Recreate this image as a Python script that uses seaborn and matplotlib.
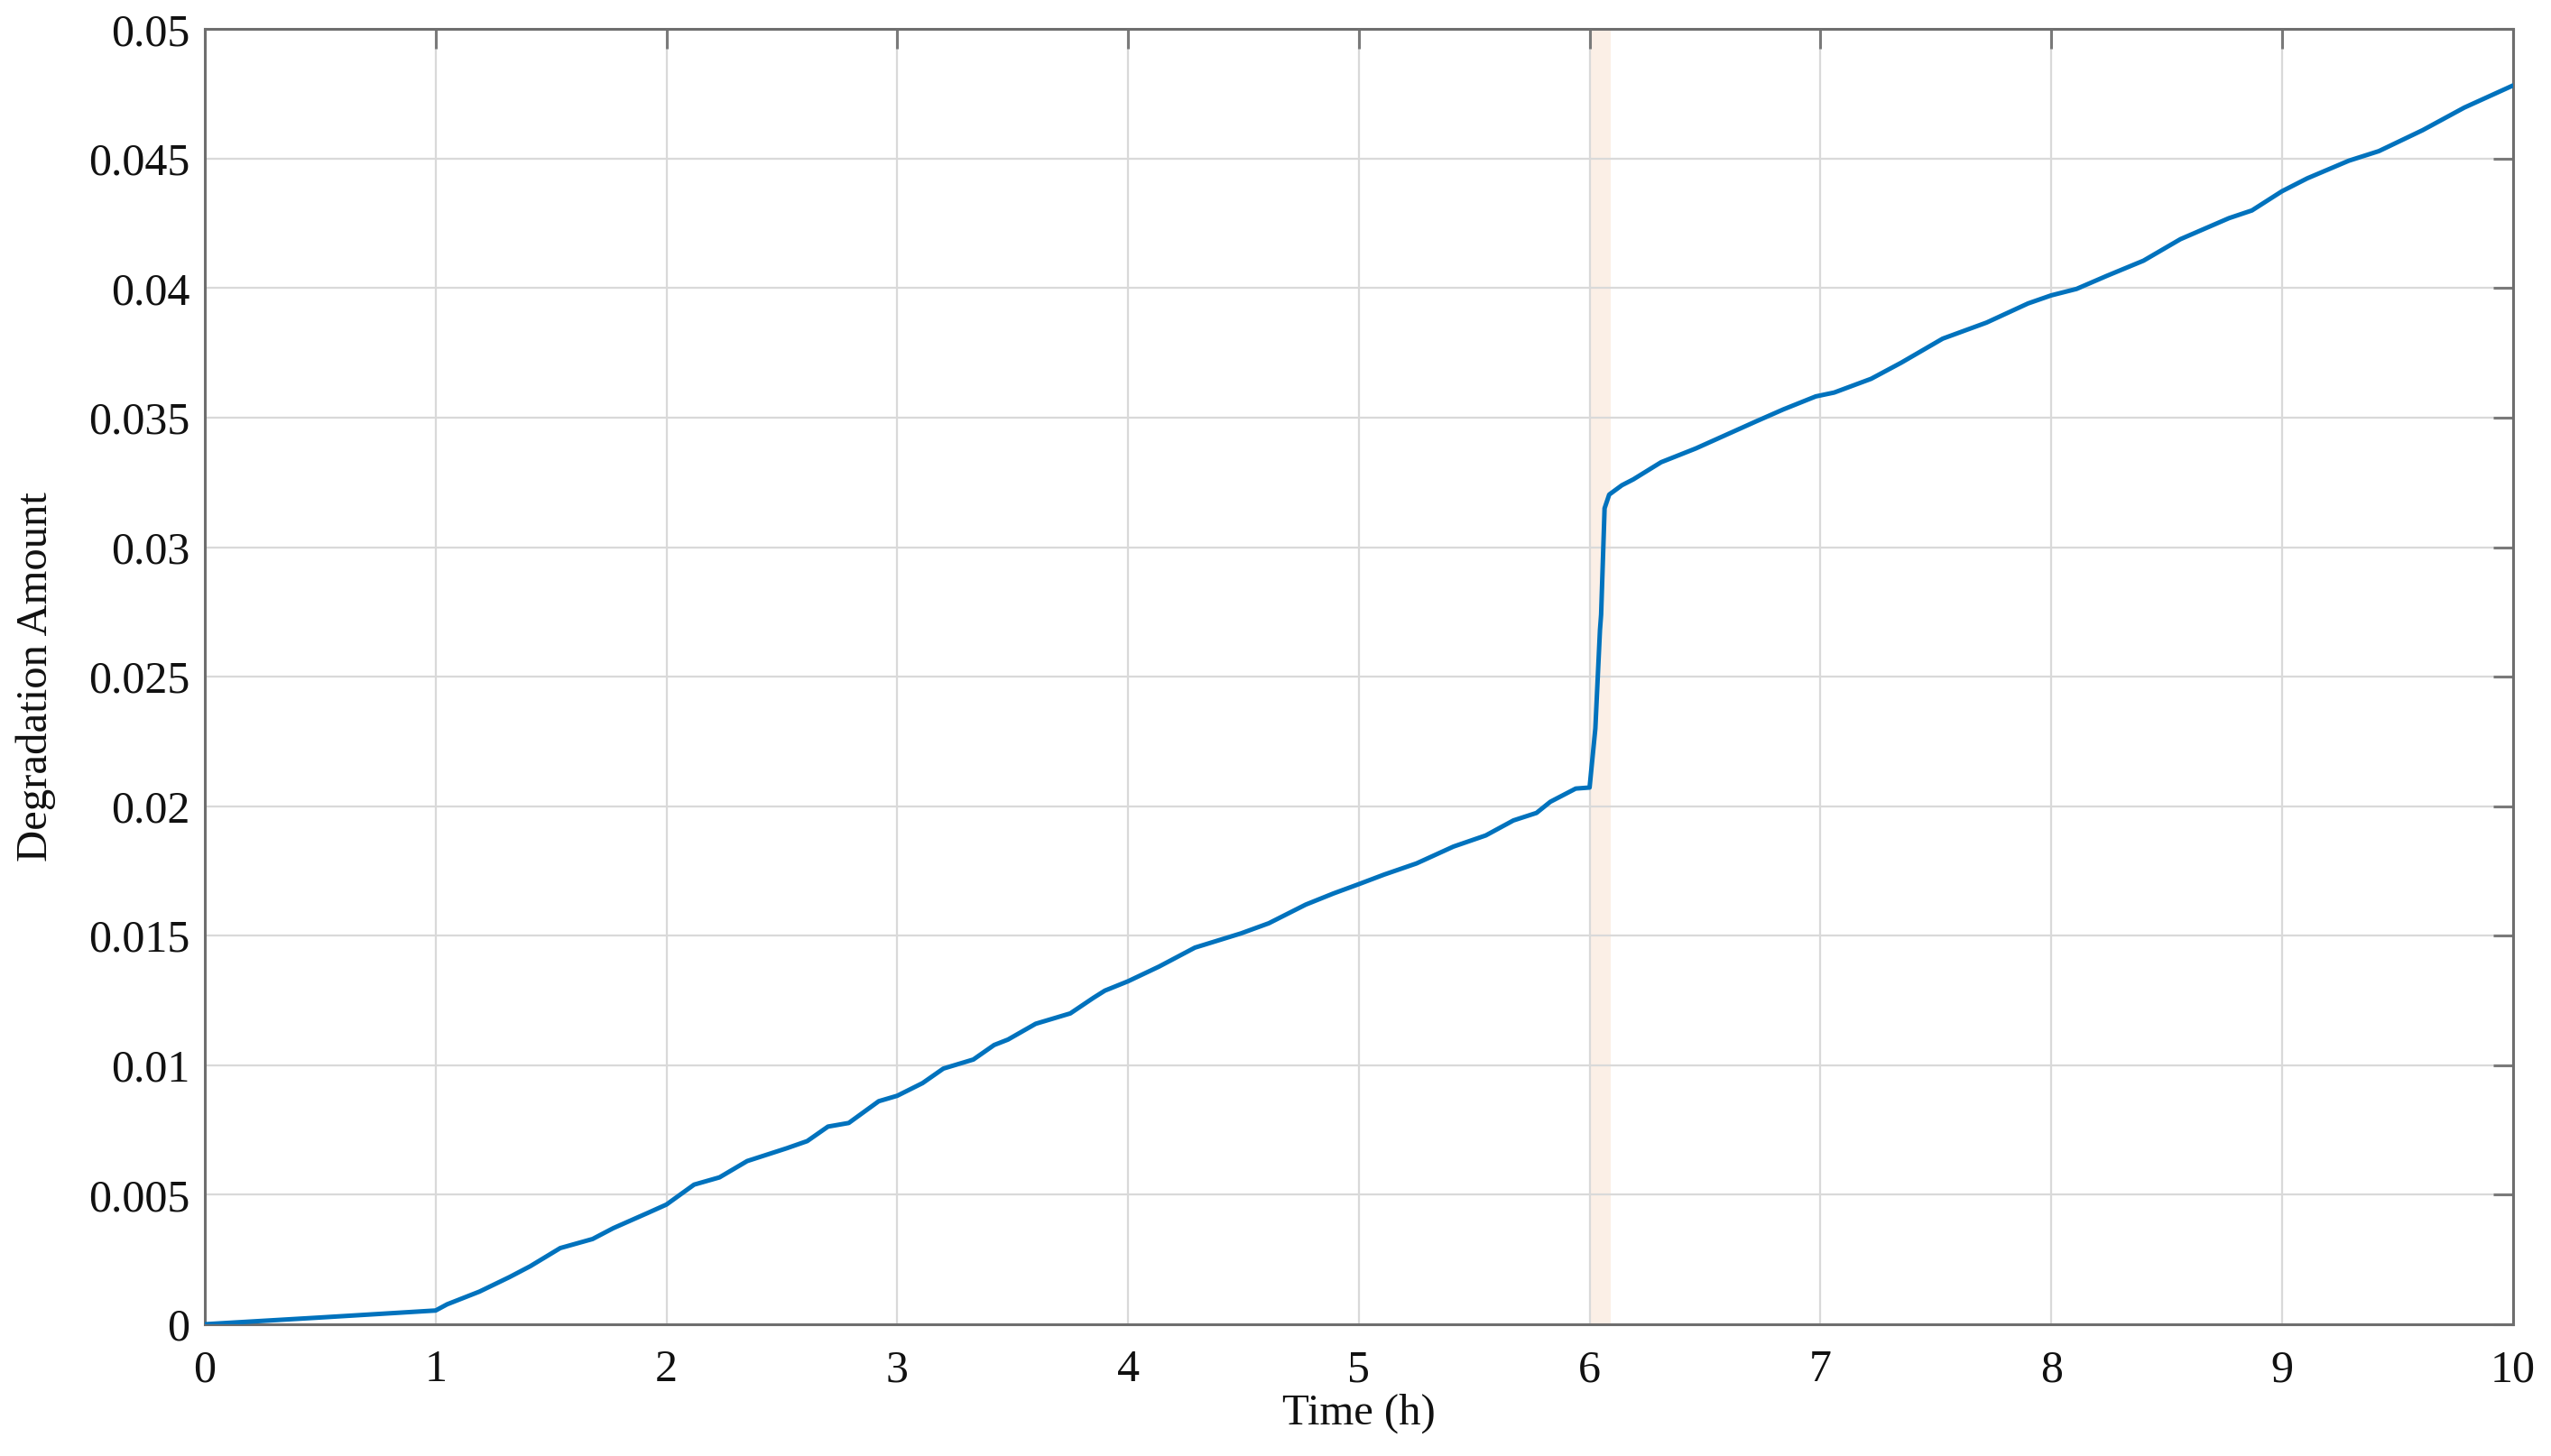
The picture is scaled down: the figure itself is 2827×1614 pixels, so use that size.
import numpy as np
import pandas as pd
import matplotlib
matplotlib.use("Agg")
import matplotlib.pyplot as plt
from matplotlib.ticker import FuncFormatter
import seaborn as sns

# values
time_h = [0.0, 0.5, 1.0, 1.05, 1.19, 1.32, 1.41, 1.54, 1.68, 1.77, 1.92, 2.0,
          2.12, 2.23, 2.35, 2.52, 2.61, 2.70, 2.79, 2.92, 3.0, 3.11, 3.20, 3.33,
          3.42, 3.48, 3.6, 3.75, 3.85, 3.90, 4.0, 4.135, 4.29, 4.49, 4.61, 4.77,
          4.89, 5.0, 5.11, 5.25, 5.41, 5.55, 5.67, 5.77, 5.83, 5.94, 6.0,
          6.025, 6.045, 6.05, 6.065, 6.085, 6.14, 6.19, 6.31, 6.46, 6.59, 6.72,
          6.84, 6.98, 7.06, 7.22, 7.35, 7.53, 7.72, 7.90, 8.0, 8.11, 8.24, 8.40,
          8.56, 8.77, 8.87, 9.0, 9.11, 9.29, 9.42, 9.61, 9.79, 10.0]
degradation = [0.0, 0.00026, 0.00053, 0.00077, 0.00126, 0.00182, 0.00224, 0.00294,
               0.00329, 0.00371, 0.0043, 0.00462, 0.00539, 0.00567, 0.0063, 0.00679,
               0.00707, 0.00763, 0.00777, 0.00861, 0.00882, 0.00931, 0.00987, 0.01022,
               0.01078, 0.01099, 0.0116, 0.0120, 0.0126, 0.01288, 0.01324, 0.01381,
               0.01454, 0.01509, 0.01548, 0.0162, 0.01663, 0.01699, 0.01736, 0.01779,
               0.01844, 0.01887, 0.01945, 0.01974, 0.02017, 0.02068, 0.02072,
               0.0230, 0.0268, 0.0274, 0.0315, 0.03203, 0.03239, 0.03262, 0.03328,
               0.03381, 0.03433, 0.03485, 0.03532, 0.03582, 0.03597, 0.0365, 0.03712,
               0.03805, 0.03867, 0.03941, 0.03972, 0.03997, 0.04047, 0.04106, 0.04189,
               0.0427, 0.043, 0.04374, 0.04424, 0.04492, 0.04529, 0.0461, 0.04697,
               0.04782]

band = (6.0, 6.09)
x_ticks = list(range(0, 11))
y_ticks = [0, 0.005, 0.01, 0.015, 0.02, 0.025, 0.03, 0.035, 0.04, 0.045, 0.05]

df = pd.DataFrame({"Time (h)": time_h, "Degradation Amount": degradation})

sns.set_style("whitegrid")
plt.rcParams["font.family"] = ["Liberation Serif", "DejaVu Serif"]

fig = plt.figure(figsize=(28.27, 16.14), dpi=100)
ax = fig.add_axes([0.0803, 0.0905, 0.9047, 0.8895])

ax.axvspan(band[0], band[1], color="#FBEFE6", lw=0, zorder=0)
sns.lineplot(data=df, x="Time (h)", y="Degradation Amount", color="#0072BD",
             linewidth=3.6, ax=ax, zorder=3)

ax.set_xlim(0, 10)
ax.set_ylim(0, 0.05)
ax.set_xticks(x_ticks)
ax.set_yticks(y_ticks)
ax.yaxis.set_major_formatter(FuncFormatter(lambda v, p: f"{v:g}"))
ax.grid(True, color="#D9D9D9", linewidth=1.6)
ax.set_axisbelow(True)
for s in ax.spines.values():
    s.set_visible(True)
    s.set_color("#6E6E6E")
    s.set_linewidth(2.2)
ax.tick_params(direction="in", length=16, width=2.2, color="#7A7A7A",
               labelsize=36, labelcolor="#111111", top=True, right=True,
               pad=12)
ax.tick_params(axis="x", pad=20)
ax.set_xlabel("Time (h)", fontsize=35, color="#111111", labelpad=2)
ax.set_ylabel("Degradation Amount", fontsize=35, color="#111111", labelpad=26)

fig.savefig("out.png", dpi=100, facecolor="white")
